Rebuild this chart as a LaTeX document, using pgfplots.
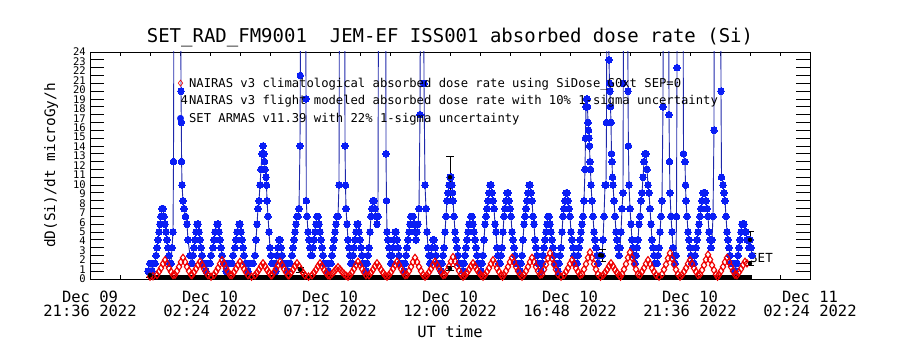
\documentclass[border=0pt]{standalone}
\usepackage{pgfplots}
\pgfplotsset{compat=1.18}
\usepackage{fontspec}
\setmainfont{DejaVu Sans Mono}
\definecolor{setblue}{RGB}{10,30,245}
\definecolor{setline}{RGB}{30,40,170}
\definecolor{nred}{RGB}{240,0,0}
\newcommand{\fTick}{\fontsize{15.5bp}{14bp}\selectfont}
\newcommand{\fLeg}{\fontsize{12.2bp}{14bp}\selectfont}
\pgfplotsset{
  frame/.style={at={(90bp,71bp)}, anchor=south west, width=720bp, height=227bp,
    scale only axis, xmin=0, xmax=720, ymin=0, ymax=29,
    axis line style={line width=0.8bp, black}, tick style={line width=0.8bp, black}},
}
\begin{document}
\begin{tikzpicture}
\path[use as bounding box] (0,0) rectangle (900bp,350bp);
% y tick marks
\begin{axis}[frame, xtick=\empty, ytick={0,1,...,29}, yticklabels={}, major tick length=14bp]
\end{axis}
% y tick labels
\begin{axis}[frame, xtick=\empty,
  ytick={0,1.2083,2.4167,3.625,4.8333,6.0417,7.25,8.4583,9.6667,10.875,12.0833,13.2917,14.5,15.7083,16.9167,18.125,19.3333,20.5417,21.75,22.9583,24.1667,25.375,26.5833,27.7917,29},
  yticklabels={0,1,2,3,4,5,6,7,8,9,10,11,12,13,14,15,16,17,18,19,20,21,22,23,24},
  major tick length=0pt, y tick style={draw=none},
  yticklabel style={font=\fontsize{10.5bp}{10.5bp}\selectfont, anchor=east, inner sep=0pt, xshift=-4bp}]
\end{axis}
% main data axis
\begin{axis}[frame, name=main,
  xtick={0,120,240,360,480,600,720},
  xticklabels={{Dec 09\\21:36 2022},{Dec 10\\02:24 2022},{Dec 10\\07:12 2022},{Dec 10\\12:00 2022},{Dec 10\\16:48 2022},{Dec 10\\21:36 2022},{Dec 11\\02:24 2022}},
  minor x tick num=3, major tick length=4bp, minor tick length=4bp,
  ytick=\empty,
  xticklabel style={align=center, font=\fTick, inner sep=0pt, anchor=north, yshift=-12bp},
  legend style={at={(0.121,0.892)}, anchor=north west, draw=none, fill=none, inner sep=0pt,
    row sep=4.8bp, font=\fLeg, nodes={inner sep=1bp}},
  legend cell align=left]
\addlegendimage{only marks, mark=diamond, mark size=3bp, nred, line width=0.6bp}
\addlegendentry{NAIRAS v3 climatological absorbed dose rate using SiDose\_G0xt SEP=0}
\addlegendimage{legend image code/.code={\node[inner sep=0pt, font=\fLeg] at (0.3cm,0) {4};}}
\addlegendentry{NAIRAS v3 flight modeled absorbed dose rate with 10\% 1-sigma uncertainty}
\addlegendimage{only marks, mark=*, mark size=3.2bp, setblue}
\addlegendentry{SET ARMAS v11.39 with 22\% 1-sigma uncertainty}

% SET ARMAS measured dose rate
\addplot[forget plot, color=setline, line width=0.9bp, mark=*, mark size=3.3bp,
  mark options={draw=setblue, fill=setblue, line width=0pt}] coordinates {
(58,1)(60,2)(62,1)(64,2)
(65,2)(66,3)(67,4)(68,5)(69,6)(70,7)(71,8)(72,9)(73,9)(74,8)(75,7)(76,6)(77,5)(78,4)(79,3)(80,2)
(81,2)(82,4)(83,6)(83.5,15)(84,40)(87,40)(90.7,40)(91,24)(91.3,20)(91.6,15)(92,12)(93,10)(94,9)(95.5,8)(97,7)(98,5)(100,3)
(102,2)(103,3)(104,4)(105,5)(106,6)(107,7)(108,7)(109,6)(110,5)(111,4)(112,3)(113,2)(114,2)(116,1)(118,2)
(120,2)(121,3)(123,4)(124,5)(125,6)(127,7)(128,7)(129,6)(130,5)(131,4)(132,3)(134,2)(136,1)(138,2)
(142,2)(143,3)(145,4)(146,5)(147,6)(149,7)(150,7)(151,6)(152,5)(153,4)(154,3)(156,2)(158,1)(160,2)
(163,2)(165,3)(166,5)(167,7)(168,9)(169,10)(170,12)(171,14)(172,16)(173,17)(174,16)(174.5,15)(175,14)(176,13)(176.5,12)(177,10)(178,8)(179,6)(180,4)(181,3)(182,2)(184,2)
(186,1)(187,3)(188,4)(189,5)(190,5)(191,4)(192,3)(193,2)(195,2)(197,1)(199,2)
(200,2)(202,3)(203,4)(204,5)(205,6)(206,7)(207,8)(208,8)(209,9)(210,17)(210.3,26)(210.6,40)(213,40)(215.7,40)(216,23)(216.3,10)
(217,8)(218,6)(219,5)(220,4)(221,3)(222,3)(223,4)(224,5)(225,6)(226,7)(227,8)(228,8)(229,7)(230,6)(231,5)(232,4)(233,3)(234,2)(236,2)(238,1)(240,2)
(241,2)(242,3)(243,4)(244,5)(245,6)(246,7)(247,8)(248,8)(249,12)(249.5,40)(252,40)(254.7,40)(255,17)(255.5,12)(256,9)(257,7)(258,5)(259,4)(260,3)(261,2)
(262,2)(263,3)(264,4)(265,5)(266,6)(267,7)(268,7)(269,6)(270,5)(271,4)(272,3)(273,2)(275,2)(276,1)
(277,2)(278,3)(279,4)(280,6)(281,8)(282,9)(283,10)(284,10)(285,9)(286,8)(287,7)(288,8)(288.5,40)(292,40)(295.7,40)(296,16)(296.5,10)(297,6)(298,5)(299,4)(300,3)(301,2)
(302,3)(303,4)(304,5)(305,6)(306,6)(307,5)(308,4)(309,3)(310,2)(312,2)(314,1)
(315,2)(316,3)(317,4)(318,5)(319,6)(320,7)(321,8)(322,8)(323,8)(324,7)(325,6)(326,5)(327,6)(328,7)(329,9)(330,21)(330.5,40)(332,40)(333.7,40)(334,25)(335,12)(336,9)(337,6)(338,4)(339,3)(340,2)
(341,3)(342,4)(343,5)(344,5)(345,4)(346,3)(347,2)(349,2)(351,1)
(352,2)(353,3)(354,4)(355,6)(356,8)(357,10)(358,11)(359,12)(360,13)(361,13)(362,12)(362.5,11)(363,10)(364,8)(365,6)(366,5)(367,4)(368,3)(369,2)(371,2)(373,1)
(374,2)(375,3)(376,4)(377,5)(378,6)(379,7)(381,8)(382,8)(383,7)(384,6)(385,5)(386,4)(387,3)(388,2)(390,2)(391,1)
(392,2)(393,3)(394,5)(395,7)(396,8)(397,9)(398,10)(399,11)(400,12)(401,12)(402,11)(403,10)(404,9)(405,7)(406,6)(407,4)(408,3)(409,2)
(410,2)(411,3)(412,4)(413,6)(414,8)(415,9)(416,10)(417,11)(418,11)(419,10)(420,9)(421,8)(422,6)(423,5)(424,4)(425,3)(426,2)(428,2)(430,1)
(431,2)(432,3)(433,5)(434,7)(435,8)(436,9)(437,10)(438,11)(439,12)(440,12)(441,11)(442,10)(443,8)(444,7)(445,5)(446,4)(447,3)(448,2)(450,2)(451,1)
(452,2)(453,3)(454,4)(455,5)(456,6)(457,7)(458,8)(459,8)(460,7)(461,6)(462,5)(463,4)(464,3)(465,2)(467,2)(468,1)
(469,2)(470,3)(471,4)(472,6)(473,8)(474,9)(475,10)(476,11)(477,11)(478,10)(479,9)(480,8)(481,6)(482,5)(483,4)(484,3)(485,2)(487,2)
(488,3)(489,4)(490,5)(491,6)(492,7)(493,8)(494,10)(495,14)(495.5,18)(496,22)(496.5,23)(497,23)(497.5,22)(498,20)(498.5,19)(499,18)(499.5,17)(500,15)(500.5,14)(501,12)(502,10)(503,8)(504,6)(505,5)(506,4)(507,3)(508,2)(510,3)
(511,3)(512,3)(513,5)(514,8)(515,12)(516,12)(516.5,20)(517,40)(518,40)(519,28)(519.5,25)(520,24)(520.5,22)(521,20)(521.5,16)(522,15)(522.5,13)(523,12)(524,10)(525,8)(526,6)(527,5)(528,4)(529,3)
(530,4)(531,6)(532,9)(533,11)(533.3,25)(533.6,40)(536,40)(537.7,40)(538,24)(538.4,17)(539,12)(540,9)(541,7)(542,5)(543,4)(544,3)(545,2)
(546,3)(547,4)(548,5)(549,7)(550,8)(551,10)(552,11)(553,13)(554,15)(555,16)(556,16)(557,14)(558,12)(559,11)(560,9)(561,7)(562,5)(563,4)(564,3)(565,2)(567,2)
(568,3)(569,4)(570,6)(571,8)(572,10)(573,22)(573.3,40)(576,40)(578.7,40)(579,21)(579.5,15)(580,11)(581,8)(582,6)(583,4)(584,3)(585,2)
(586,3)(586.5,8)(587,27)(587.3,40)(590,40)(593,40)(593.5,16)(595,15)(595.5,12)(596,10)(597,8)(598,6)(599,5)(600,4)(601,3)(602,2)(604,2)
(605,3)(606,4)(607,5)(608,6)(609,7)(610,8)(611,9)(612,10)(613,11)(614,11)(615,11)(616,10)(617,9)(618,8)(619,6)(620,5)(621,4)
(622,5)(623,8)(624,19)(624.3,40)(628,40)(630.7,40)(631,24)(631.5,13)(633,12)(634,11)(635,10)(636,8)(637,6)(638,5)(639,4)(640,3)(641,2)(643,2)(645,1)
(647,2)(648,3)(649,4)(650,5)(651,6)(652,7)(653,7)(654,7)(655,6)(656,6)(657,5)(658,5)(659,4)(660,5)(661,4)(662,3)
};

% NAIRAS climatological (red diamonds)
\addplot[forget plot, only marks, mark=diamond, mark size=3.6bp, mark options={draw=nred, line width=1.1bp}] coordinates {
(60,0.3)(63,0.35)(67,0.51)(69,0.93)(71,1.39)(73,1.94)(75,2.4)(77,1.94)(79,1.39)(81,0.93)(83,0.51)
(85,0.54)(87,1.02)(89,1.55)(91,2.17)(93,2.7)(95,2.17)(97,1.55)(99,1.02)(101,0.54)
(102,0.49)(104,0.87)(106,1.29)(108,1.78)(110,2.2)(112,1.78)(114,1.29)(116,0.87)(118,0.49)(121,0.3)
(124,0.51)(126,0.93)(128,1.39)(130,1.94)(132,2.4)(134,1.94)(136,1.39)(138,0.93)(140,0.51)
(142,0.49)(144,0.87)(146,1.29)(148,1.78)(150,2.2)(152,1.78)(154,1.29)(156,0.87)(158,0.49)(161.5,0.3)
(165,0.47)(167,0.81)(169,1.18)(171,1.63)(173,2.0)(175,1.63)(177,1.18)(179,0.81)(181,0.47)
(182,0.49)(184,0.87)(186,1.29)(188,1.78)(190,2.2)(192,1.78)(194,1.29)(196,0.87)(198,0.49)
(199,0.47)(201,0.81)(203,1.18)(205,1.63)(207,2.0)(209,1.63)(211,1.18)(213,0.81)(215,0.47)(218.5,0.3)
(222,0.47)(224,0.81)(226,1.18)(228,1.63)(230,2.0)(232,1.63)(234,1.18)(236,0.81)(238,0.47)
(240,0.42)(242,0.66)(244,0.92)(246,1.24)(248,1.5)(250,1.24)(252,0.92)(254,0.66)(256,0.42)(258,0.3)
(260,0.49)(262,0.87)(264,1.29)(266,1.78)(268,2.2)(270,1.78)(272,1.29)(274,0.87)(276,0.49)
(279,0.47)(281,0.81)(283,1.18)(285,1.63)(287,2.0)(289,1.63)(291,1.18)(293,0.81)(295,0.47)(297,0.3)
(299,0.49)(301,0.87)(303,1.29)(305,1.78)(307,2.2)(309,1.78)(311,1.29)(313,0.87)(315,0.49)
(317,0.54)(319,1.02)(321,1.55)(323,2.17)(325,2.7)(327,2.17)(329,1.55)(331,1.02)(333,0.54)(335,0.3)
(337,0.49)(339,0.87)(341,1.29)(343,1.78)(345,2.2)(347,1.78)(349,1.29)(351,0.87)(353,0.49)
(355,0.55)(357,1.05)(359,1.6)(361,2.25)(363,2.8)(365,2.25)(367,1.6)(369,1.05)(371,0.55)(373,0.3)
(375,0.47)(377,0.81)(379,1.18)(381,1.63)(383,2.0)(385,1.63)(387,1.18)(389,0.81)(391,0.47)(393,0.3)
(395,0.51)(397,0.93)(399,1.39)(401,1.94)(403,2.4)(405,1.94)(407,1.39)(409,0.93)(411,0.51)(412.5,0.3)
(414,0.54)(416,1.02)(418,1.55)(420,2.17)(422,2.7)(424,2.17)(426,1.55)(428,1.02)(430,0.54)(432,0.3)
(434,0.54)(436,1.02)(438,1.55)(440,2.17)(442,2.7)(444,2.17)(446,1.55)(448,1.02)(450,0.54)
(452,0.6)(454,1.2)(456,1.86)(458,2.64)(460,3.3)(462,2.64)(464,1.86)(466,1.2)(468,0.6)(471,0.3)
(474,0.51)(476,0.93)(478,1.39)(480,1.94)(482,2.4)(484,1.94)(486,1.39)(488,0.93)(490,0.51)
(492,0.61)(494,1.23)(496,1.91)(498,2.72)(500,3.4)(502,2.72)(504,1.91)(506,1.23)(508,0.61)(510.5,0.3)
(513,0.47)(515,0.81)(517,1.18)(519,1.63)(521,2.0)(523,1.63)(525,1.18)(527,0.81)(529,0.47)(530.5,0.3)
(532,0.61)(534,1.23)(536,1.91)(538,2.72)(540,3.4)(542,2.72)(544,1.91)(546,1.23)(548,0.61)
(550,0.51)(552,0.93)(554,1.39)(556,1.94)(558,2.4)(560,1.94)(562,1.39)(564,0.93)(566,0.51)(569,0.3)
(572,0.6)(574,1.2)(576,1.86)(578,2.64)(580,3.3)(582,2.64)(584,1.86)(586,1.2)(588,0.6)(590,0.3)
(592,0.51)(594,0.93)(596,1.39)(598,1.94)(600,2.4)(602,1.94)(604,1.39)(606,0.93)(608,0.51)
(610,0.58)(612,1.14)(614,1.76)(616,2.48)(618,3.1)(620,2.48)(622,1.76)(624,1.14)(626,0.58)(627.5,0.3)
(629,0.54)(631,1.02)(633,1.55)(635,2.17)(637,2.7)(639,2.17)(641,1.55)(643,1.02)(645,0.54)
(647,0.49)(649,0.87)(651,1.29)(653,1.78)(655,2.2)(657,2.0)
};

% NAIRAS flight modeled baseline and its error bars
\addplot[forget plot, black, line width=3.5bp] coordinates {(58,0.25) (662,0.25)};
\addplot[forget plot, only marks, mark=none, black,
  error bars/.cd, y dir=both, y explicit,
  error bar style={line width=0.8bp, black},
  error mark options={rotate=90, mark size=4bp, line width=0.8bp, black}] coordinates {
(60,0.5) +- (0,0.25)
(210,1.2) +- (0,0.3)
(360,1.3) +- (0,0.25)
(510,3.05) +- (0,0.25)
(660,2.0) +- (0,0.2)
};
% SET ARMAS 22% error bars
\addplot[forget plot, only marks, mark=none, black,
  error bars/.cd, y dir=both, y explicit,
  error bar style={line width=0.8bp, black},
  error mark options={rotate=90, mark size=4bp, line width=0.8bp, black}] coordinates {
(360,13) +- (0,2.7)
(512,3) +- (0,0.75)
(660,5) +- (0,1.1)
};
\node[anchor=base west, inner sep=0pt, font=\fontsize{12.5bp}{12.5bp}\selectfont] at (axis cs:660,2.17) {SET};
\end{axis}
\node[anchor=base, inner sep=0pt, font=\fontsize{19bp}{19bp}\selectfont] at ([yshift=9bp]main.north) {SET\_RAD\_FM9001~~JEM-EF ISS001 absorbed dose rate (Si)};
\node[anchor=base, inner sep=0pt, font=\fTick] at ([yshift=-58bp]main.south) {UT time};
\node[anchor=base, rotate=90, inner sep=0pt, font=\fontsize{14.4bp}{14.4bp}\selectfont] at ([xshift=-35bp]main.west) {dD(Si)/dt microGy/h};
\end{tikzpicture}
\end{document}
